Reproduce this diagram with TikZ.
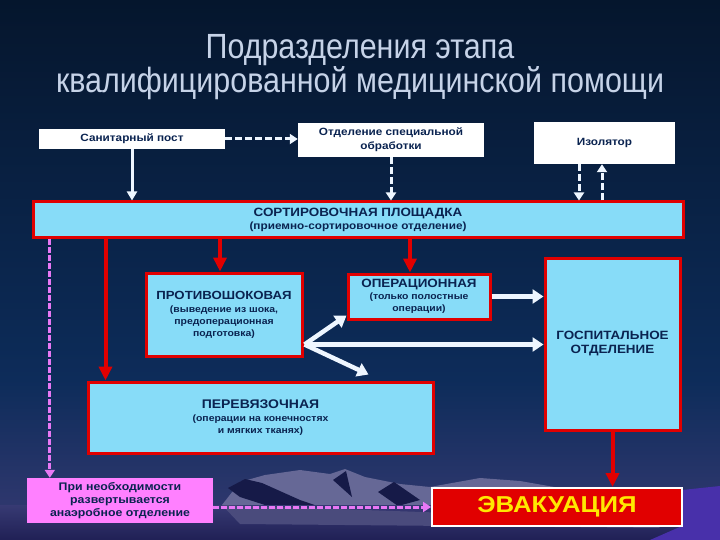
\documentclass[tikz,border=0pt]{standalone}
\usepackage{fontspec}
\setmainfont{Liberation Sans}
\newfontfamily\boxfont[FakeStretch=1.12]{Liberation Sans}
\newfontfamily\titlefont[FakeStretch=0.87]{Liberation Sans}
\usetikzlibrary{arrows.meta,calc}
\definecolor{bgtop}{RGB}{5,22,45}
\definecolor{bgmid}{RGB}{13,44,90}
\definecolor{bgbot}{RGB}{55,58,115}
\definecolor{navytext}{RGB}{10,35,80}
\definecolor{lblue}{RGB}{135,220,248}
\definecolor{boxred}{RGB}{225,0,0}
\definecolor{arrwhite}{RGB}{238,246,255}
\definecolor{pinkfill}{RGB}{255,128,255}
\definecolor{pinkline}{RGB}{232,120,245}
\definecolor{titlecol}{RGB}{198,211,232}
\definecolor{evakyellow}{RGB}{255,232,0}
\definecolor{ridge}{RGB}{22,26,72}
\definecolor{lavmount}{RGB}{102,104,150}
\definecolor{baseband}{RGB}{32,32,85}
\definecolor{violetbg}{RGB}{72,48,170}
\tikzset{
  wbox/.style={fill=white, inner sep=0pt, align=center, text=navytext,
    font=\boxfont\bfseries\fontsize{10.5}{14}\selectfont},
  bbox/.style={fill=lblue, draw=boxred, line width=3pt, inner sep=0pt, align=center,
    text=navytext, font=\boxfont\bfseries\fontsize{9.3}{12}\selectfont},
  warr/.style={draw=arrwhite, line width=4.5pt, -{Triangle[length=11pt,width=14pt]}},
  wthin/.style={draw=arrwhite, line width=3pt, -{Triangle[length=9pt,width=10pt]}},
  wdash/.style={draw=arrwhite, line width=3pt, dash pattern=on 7pt off 3pt, -{Triangle[length=8pt,width=10pt]}},
  rarr/.style={draw=boxred, line width=4pt, -{Triangle[length=14pt,width=13pt]}},
  pdash/.style={draw=pinkline, line width=3pt, dash pattern=on 6pt off 2pt, -{Triangle[length=8pt,width=10pt]}},
}
\begin{document}
\begin{tikzpicture}[x=1pt,y=-1pt]
\useasboundingbox (0,0) rectangle (720,540);
% background
\shade[top color=bgtop, bottom color=bgmid] (0,0) rectangle (720,380);
\shade[top color=bgmid, bottom color=bgbot] (0,379.5) rectangle (720,540);
% mountains
\fill[lavmount] (222,505) -- (240,482) -- (265,475) -- (300,470) -- (330,474) -- (345,469) -- (365,477) -- (400,484) -- (430,487) -- (480,478) -- (520,481) -- (560,488) -- (600,500) -- (650,520) -- (222,520) -- cycle;
\fill[ridge] (228,488) -- (245,479) -- (262,483) -- (300,500) -- (335,512) -- (305,516) -- (265,505) -- (240,497) -- cycle;
\fill[ridge] (333,480) -- (346,471) -- (352,497) -- cycle;
\fill[ridge] (378,492) -- (394,482) -- (420,500) -- (398,506) -- cycle;
\shade[top color=bgbot, bottom color=baseband] (0,505) rectangle (720,540);
\fill[lavmount!60!baseband] (222,505) -- (650,520) -- (660,528) -- (240,524) -- cycle;
\fill[violetbg] (682,490) -- (720,486) -- (720,540) -- (650,540) -- (682,526) -- cycle;

% title
\node[text=titlecol, font=\titlefont\fontsize{35}{32}\selectfont, align=center] (title) at (360,67)
  {Подразделения этапа\\квалифицированной медицинской помощи};

% top white boxes
\node[wbox, minimum width=186pt, minimum height=20pt] (san) at (132,139) {Санитарный пост};
\node[wbox, minimum width=186pt, minimum height=34pt] (obr) at (391,140) {Отделение специальной\\обработки};
\node[wbox, minimum width=141pt, minimum height=42pt] (izo) at (604.5,143) {Изолятор};

% sorting area
\node[bbox, minimum width=650pt, minimum height=35pt] (sort) at (358,219.5)
  {{\fontsize{12}{14}\selectfont СОРТИРОВОЧНАЯ ПЛОЩАДКА}\\[1pt]{\fontsize{10.5}{12}\selectfont(приемно-сортировочное отделение)}};

% inner boxes
\node[bbox, minimum width=156pt, minimum height=83pt] (proti) at (224,314.5)
  {{\fontsize{11.8}{14}\selectfont ПРОТИВОШОКОВАЯ}\\[1pt](выведение из шока,\\предоперационная\\подготовка)};
\node[bbox, minimum width=142pt, minimum height=45pt] (oper) at (419,296.5)
  {{\fontsize{12}{14}\selectfont ОПЕРАЦИОННАЯ}\\[0pt](только полостные\\операции)};
\node[bbox, minimum width=135pt, minimum height=172pt, font=\boxfont\bfseries\fontsize{12}{14}\selectfont] (gosp) at (612.5,344)
  {ГОСПИТАЛЬНОЕ\\ОТДЕЛЕНИЕ};
\node[bbox, minimum width=345pt, minimum height=71pt] (perev) at (260.5,417.5)
  {{\fontsize{12.5}{14}\selectfont ПЕРЕВЯЗОЧНАЯ}\\[1pt](операции на конечностях\\и мягких тканях)};

% bottom boxes
\node[fill=pinkfill, inner sep=0pt, align=center, text=navytext,
  font=\boxfont\bfseries\fontsize{11}{13}\selectfont,
  minimum width=186pt, minimum height=45pt] (pink) at (120,500.5)
  {При необходимости\\развертывается\\анаэробное отделение};
\node[fill=boxred, draw=white, line width=2pt, inner sep=0pt, text=evakyellow,
  font=\boxfont\bfseries\fontsize{23}{26}\selectfont,
  minimum width=250pt, minimum height=38pt] (evak) at (557,507) {ЭВАКУАЦИЯ};

% helper coordinates
\coordinate (izd) at ($(izo.south)+(-25.5,0)$);
\coordinate (izu) at ($(izo.south)+(-2.5,0)$);
\coordinate (pv) at ($(perev.north west)+(19,0)$);
\coordinate (pr) at ($(proti.north)+(-4,0)$);
\coordinate (op) at ($(oper.north)+(-9,0)$);
\coordinate (pk) at ($(pink.north west)+(23,0)$);
\coordinate (pj) at ($(proti.south east)+(1,-13)$);
\coordinate (opt) at ($(oper.south west)+(0,-5)$);
\coordinate (pvt) at ($(perev.north west)+(282,-6)$);

% top connectors
\draw[wthin] (san.south) -- (san.south |- sort.north);
\draw[wdash] (san.east) -- (san.east -| obr.west);
\draw[wdash] (obr.south) -- (obr.south |- sort.north);
\draw[wdash] (izd) -- (izd |- sort.north);
\draw[wdash] (izu |- sort.north) -- (izu);

% red connectors
\draw[rarr] (pv |- sort.south) -- (pv);
\draw[rarr] (pr |- sort.south) -- (pr);
\draw[rarr] (op |- sort.south) -- (op);
\draw[rarr] (gosp.south) -- (gosp.south |- evak.north);

% white connectors
\draw[warr] (pj) -- (opt);
\draw[warr] (pj) -- (pj -| gosp.west);
\draw[warr] (pj) -- (pvt);
\draw[warr] (oper.east) -- (oper.east -| gosp.west);

% pink connectors
\draw[pdash] (pk |- sort.south) -- (pk);
\draw[pdash] (evak.west -| pink.east) -- (evak.west);
\end{tikzpicture}
\end{document}
